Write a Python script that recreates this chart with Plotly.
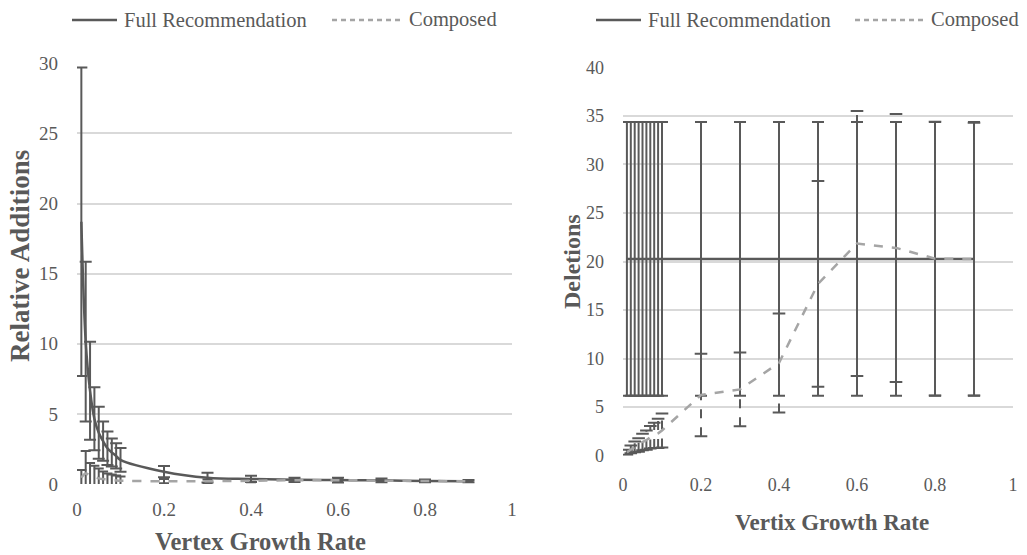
import plotly.graph_objects as go

# ---- data ----
growth = [0.01, 0.02, 0.03, 0.04, 0.05, 0.06, 0.07, 0.08, 0.09, 0.1,
          0.2, 0.3, 0.4, 0.5, 0.6, 0.7, 0.8, 0.9]

full_add = [18.7, 10.15, 6.65, 4.65, 3.65, 3.05, 2.55, 2.25, 2.0, 1.72,
            0.88, 0.45, 0.36, 0.3, 0.28, 0.26, 0.22, 0.2]
full_add_err = [11.0, 5.7, 3.5, 2.25, 1.85, 1.4, 1.2, 1.0, 0.9, 0.85,
                0.4, 0.35, 0.22, 0.15, 0.17, 0.13, 0.1, 0.08]
comp_add = [0.45, 0.75, 0.6, 0.5, 0.4, 0.35, 0.3, 0.28, 0.25, 0.23,
            0.2, 0.2, 0.23, 0.27, 0.27, 0.24, 0.21, 0.2]
comp_add_err = [0.55, 1.6, 0.9, 0.8, 0.7, 0.55, 0.45, 0.4, 0.35, 0.3,
                0.15, 0.12, 0.1, 0.1, 0.1, 0.08, 0.06, 0.05]

full_del = [20.27, 20.27, 20.27, 20.27, 20.27, 20.27, 20.27, 20.27, 20.27, 20.27,
            20.27, 20.27, 20.27, 20.27, 20.27, 20.27, 20.27, 20.27]
full_del_err = [14.1, 14.1, 14.1, 14.1, 14.1, 14.1, 14.1, 14.1, 14.1, 14.1,
                14.1, 14.1, 14.1, 14.1, 14.1, 14.1, 14.1, 14.1]
comp_del = [0.35, 0.65, 0.9, 1.1, 1.4, 1.6, 1.9, 2.1, 2.3, 2.6,
            6.25, 6.83, 9.55, 17.7, 21.85, 21.4, 20.3, 20.25]
comp_del_err = [0.25, 0.4, 0.55, 0.7, 0.85, 1.0, 1.15, 1.3, 1.5, 1.75,
                4.25, 3.8, 5.1, 10.6, 13.65, 13.8, 14.1, 14.05]

x_ticks = [0, 0.2, 0.4, 0.6, 0.8, 1]
x_tick_text = ["0", "0.2", "0.4", "0.6", "0.8", "1"]
series_names = ["Full Recommendation", "Composed"]

# ---- style ----
DARK = "#595959"
LIGHT = "#A5A5A5"
GRID = "#D9D9D9"
FONT = "Liberation Serif"
W, H = 1027, 555

def px(xp):
    return xp / W

def py(yp):
    return 1 - yp / H

fig = go.Figure()

# Left chart
fig.add_trace(go.Scatter(
    x=growth, y=full_add, mode="lines", name=series_names[0],
    line=dict(color=DARK, width=2.5, shape="spline"),
    error_y=dict(type="data", array=full_add_err, visible=True,
                 color=DARK, thickness=2, width=6),
    xaxis="x", yaxis="y", showlegend=False))
fig.add_trace(go.Scatter(
    x=growth, y=comp_add, mode="lines", name=series_names[1],
    line=dict(color=LIGHT, width=2.5, dash="dash", shape="spline"),
    error_y=dict(type="data", array=comp_add_err, visible=True,
                 color=DARK, thickness=2, width=5),
    xaxis="x", yaxis="y", showlegend=False))

# Right chart
fig.add_trace(go.Scatter(
    x=growth, y=full_del, mode="lines", name=series_names[0],
    line=dict(color=DARK, width=2.5),
    error_y=dict(type="data", array=full_del_err, visible=True,
                 color=DARK, thickness=2, width=6),
    xaxis="x2", yaxis="y2", showlegend=False))

# Composed error bars (dashed stems + caps) built from data
stem_x, stem_y, cap_x, cap_y = [], [], [], []
for g, v, e in zip(growth, comp_del, comp_del_err):
    stem_x += [g, g, None]
    stem_y += [v - e, v + e, None]
    cap_x += [g, g]
    cap_y += [v - e, v + e]
fig.add_trace(go.Scatter(
    x=stem_x, y=stem_y, mode="lines", showlegend=False, hoverinfo="skip",
    line=dict(color=DARK, width=2, dash="dash"), xaxis="x2", yaxis="y2"))
fig.add_trace(go.Scatter(
    x=cap_x, y=cap_y, mode="markers", showlegend=False, hoverinfo="skip",
    marker=dict(symbol="line-ew-open", size=9, color=DARK,
                line=dict(color=DARK, width=2)),
    xaxis="x2", yaxis="y2"))
fig.add_trace(go.Scatter(
    x=growth, y=comp_del, mode="lines", name=series_names[1],
    line=dict(color=LIGHT, width=2.5, dash="dash"),
    xaxis="x2", yaxis="y2", showlegend=False))

def axis_common(size):
    return dict(showline=False, zeroline=False, ticks="", automargin=False,
                tickfont=dict(family=FONT, size=size, color=DARK))

fig.update_layout(
    width=W, height=H,
    margin=dict(l=0, r=0, t=0, b=0, autoexpand=False),
    paper_bgcolor="white", plot_bgcolor="white",
    font=dict(family=FONT, color=DARK),
    showlegend=False,
    xaxis=dict(domain=[px(77), px(512)], range=[0, 1], anchor="y",
               tickvals=x_ticks, ticktext=x_tick_text, showgrid=False,
               ticklabelstandoff=12, **axis_common(19)),
    yaxis=dict(domain=[py(484), py(63.3)], range=[0, 30], anchor="x",
               dtick=5, showgrid=True, gridcolor=GRID, gridwidth=1.5,
               ticklabelstandoff=18, **axis_common(19)),
    xaxis2=dict(domain=[px(623), px(1013)], range=[0, 1], anchor="y2",
                tickvals=x_ticks, ticktext=x_tick_text, showgrid=False,
                ticklabelstandoff=16, **axis_common(18)),
    yaxis2=dict(domain=[py(455.7), py(67.3)], range=[0, 40], anchor="x2",
                dtick=5, showgrid=True, gridcolor=GRID, gridwidth=1.5,
                ticklabelstandoff=18, **axis_common(18)),
)

# ---- legends (line samples + text) ----
LEG_Y = 20
legend_items = [
    # (line x0, line x1, text x, name, color, dash)
    (72, 117, 122, series_names[0], DARK, "solid"),
    (332, 403, 407, series_names[1], LIGHT, "5px,4px"),
    (596, 641, 646, series_names[0], DARK, "solid"),
    (855, 925, 929, series_names[1], LIGHT, "5px,4px"),
]
for x0, x1, tx, name, col, dsh in legend_items:
    fig.add_shape(type="line", xref="paper", yref="paper",
                  x0=px(x0), x1=px(x1), y0=py(LEG_Y), y1=py(LEG_Y),
                  line=dict(color=col, width=2.5, dash=dsh))
    fig.add_annotation(text=name, x=px(tx), y=py(LEG_Y), xref="paper", yref="paper",
                       showarrow=False, xanchor="left", yanchor="middle",
                       font=dict(family=FONT, size=20.5, color=DARK))

# ---- axis titles ----
fig.add_annotation(text="<b>Relative Additions</b>", x=px(20), y=py(256),
                   xref="paper", yref="paper", showarrow=False, textangle=-90,
                   font=dict(family=FONT, size=27, color=DARK),
                   xanchor="center", yanchor="middle")
fig.add_annotation(text="<b>Vertex Growth Rate</b>", x=px(260), y=py(541),
                   xref="paper", yref="paper", showarrow=False,
                   font=dict(family=FONT, size=24.5, color=DARK),
                   xanchor="center", yanchor="middle")
fig.add_annotation(text="<b>Deletions</b>", x=px(572), y=py(262),
                   xref="paper", yref="paper", showarrow=False, textangle=-90,
                   font=dict(family=FONT, size=24, color=DARK),
                   xanchor="center", yanchor="middle")
fig.add_annotation(text="<b>Vertix Growth Rate</b>", x=px(832), y=py(522),
                   xref="paper", yref="paper", showarrow=False,
                   font=dict(family=FONT, size=23, color=DARK),
                   xanchor="center", yanchor="middle")

fig.write_html("out.html", config={"displayModeBar": False},
               post_script="document.body.style.margin='0px';")
